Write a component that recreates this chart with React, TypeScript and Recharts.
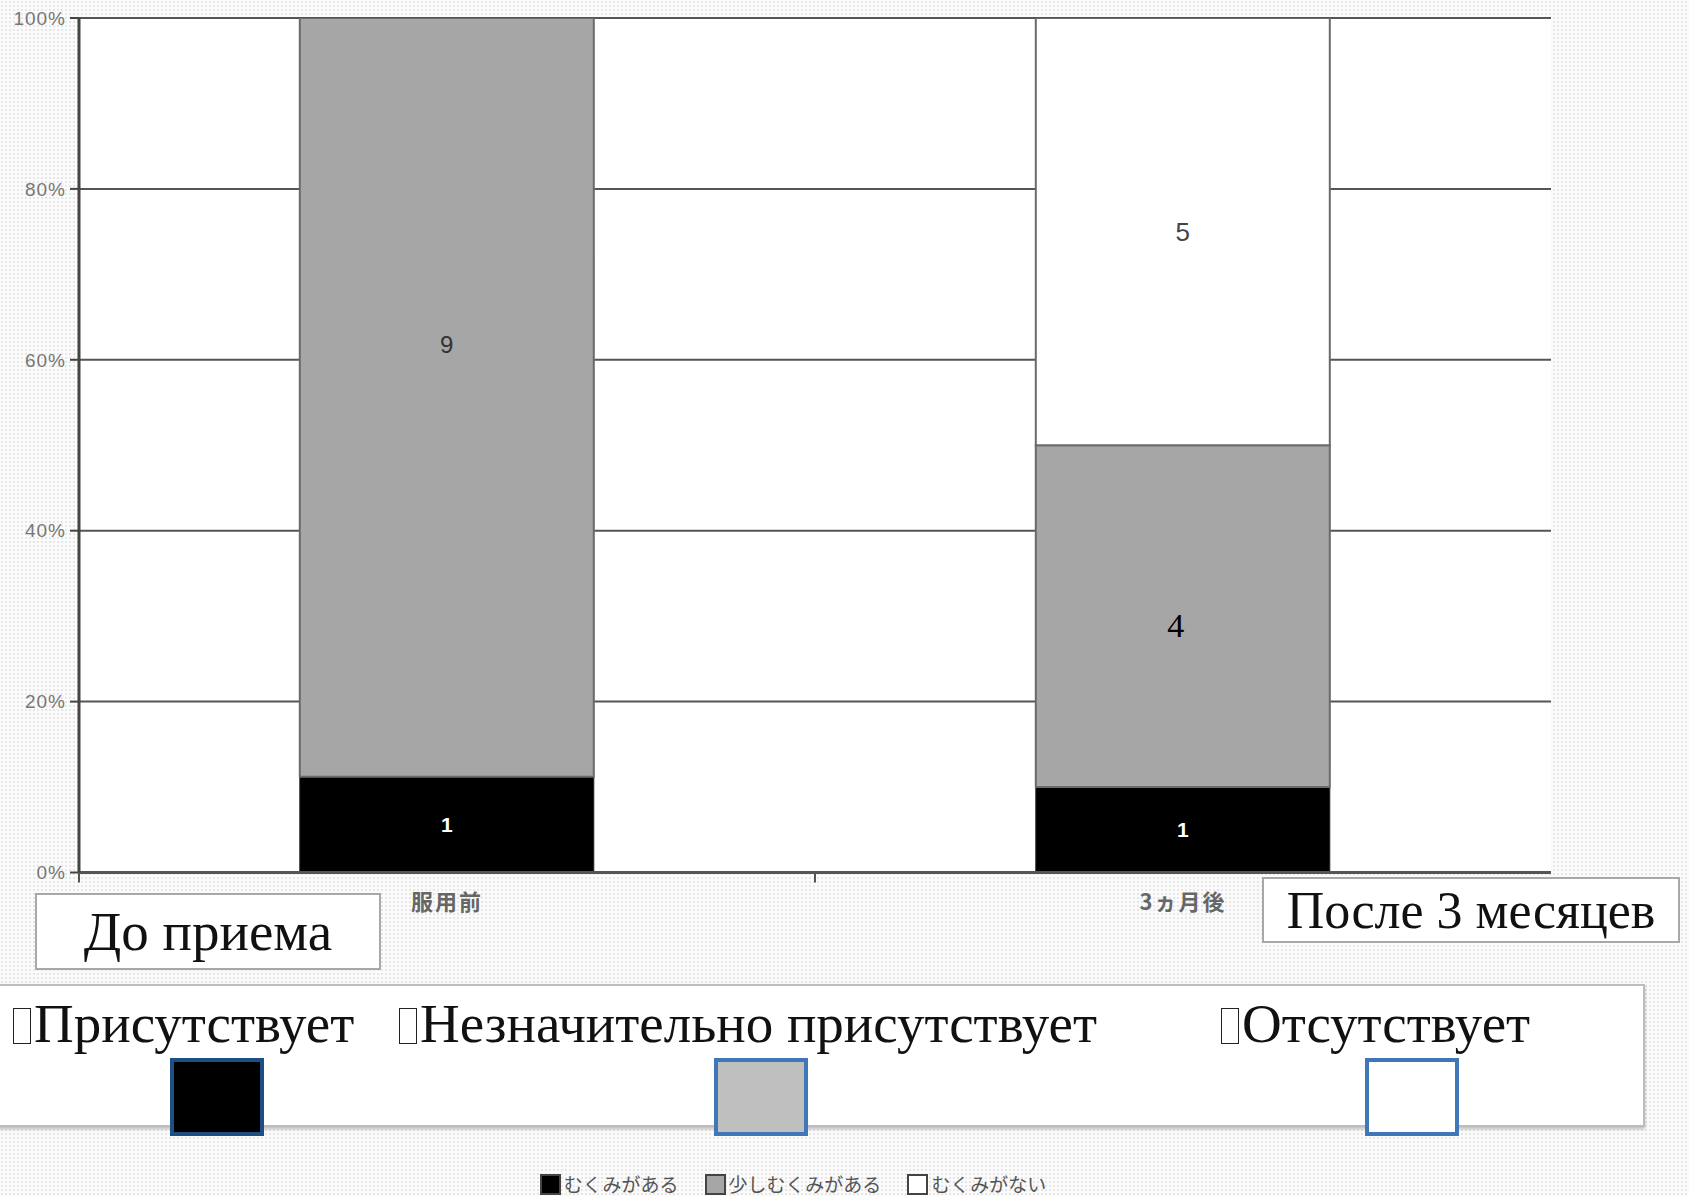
import React from 'react';
import { BarChart, Bar, XAxis, YAxis, CartesianGrid, LabelList, Legend } from 'recharts';

const categories = ['服用前', '3ヵ月後'];
const presentPct = [11.2, 10];
const slightPct = [88.8, 40];
const absentPct = [0, 50];
const presentCount = [1, 1];
const slightCount = [9, 4];
const absentCount = [0, 5];
const yTicks = [0, 20, 40, 60, 80, 100];
const jpLegend = ['むくみがある', '少しむくみがある', 'むくみがない'];
const ruLegend = ['Присутствует', 'Незначительно присутствует', 'Отсутствует'];
const ruCategories = ['До приема', 'После 3 месяцев'];

const data = categories.map((c, i) => ({
  name: c,
  present: presentPct[i],
  slight: slightPct[i],
  absent: absentPct[i],
  presentN: presentCount[i],
  slightN: slightCount[i],
  absentN: absentCount[i],
}));

const W = 1689;
const H = 1196;
const M = { top: 18, right: 138, left: 9, bottom: 283.5 };
const Y_W = 70;
const X_H = 40;
const plotW = W - M.left - M.right - Y_W;
const bandHalf = plotW / categories.length / 2;

const SANS = '"Liberation Sans", Arial, sans-serif';
const SERIF = '"Liberation Serif", "Times New Roman", serif';
const JP = '"Noto Sans CJK JP", sans-serif';

const XTick = (props: any) => {
  const { x, y, payload, index } = props;
  return (
    <g>
      {index === 0 && (
        <>
          <line x1={x - bandHalf} x2={x - bandHalf} y1={y} y2={y + 10} stroke="#555" strokeWidth={2} />
          <line x1={x + bandHalf} x2={x + bandHalf} y1={y} y2={y + 10} stroke="#555" strokeWidth={2} />
        </>
      )}
      <text x={x} y={y + 27} textAnchor="middle" dominantBaseline="central" fontSize={22} fontWeight="bold" letterSpacing={2} fill="#666" fontFamily={JP}>
        {payload.value}
      </text>
    </g>
  );
};

const presentLabel = (p: any) => {
  const { x, y, width, height, value } = p;
  if (!value) return null;
  return (
    <text x={x + width / 2} y={y + height / 2} textAnchor="middle" dominantBaseline="central" fontSize={21} fontWeight="bold" fill="#fff" fontFamily={SANS}>
      {value}
    </text>
  );
};

const slightLabel = (p: any) => {
  const { x, y, width, height, value, index } = p;
  if (!value) return null;
  if (index === 1) {
    return (
      <text x={x + width / 2 - 7} y={y + height / 2 + 9} textAnchor="middle" dominantBaseline="central" fontSize={34} fill="#000" fontFamily={SERIF}>
        {value}
      </text>
    );
  }
  return (
    <text x={x + width / 2} y={y + height * 0.43} textAnchor="middle" dominantBaseline="central" fontSize={24} fill="#333" fontFamily={SANS}>
      {value}
    </text>
  );
};

const absentLabel = (p: any) => {
  const { x, y, width, height, value } = p;
  if (!value) return null;
  return (
    <text x={x + width / 2} y={y + height / 2} textAnchor="middle" dominantBaseline="central" fontSize={26} fill="#444" fontFamily={SANS}>
      {value}
    </text>
  );
};

const JpLegend = (props: any) => {
  const payload = [...(props.payload || [])].sort(
    (a: any, b: any) => jpLegend.indexOf(a.value) - jpLegend.indexOf(b.value)
  );
  return (
    <div style={{ display: 'flex', justifyContent: 'center', gap: 26, fontFamily: JP, fontSize: 19, color: '#555', lineHeight: '24px' }}>
      {payload.map((e: any, i: number) => (
        <span key={i} style={{ display: 'flex', alignItems: 'center' }}>
          <span style={{ display: 'inline-block', width: 17, height: 17, background: e.color, border: '2px solid #444', marginRight: 3 }} />
          {e.value}
        </span>
      ))}
    </div>
  );
};

const Tofu = () => (
  <span style={{ display: 'inline-block', width: 16, height: 34, border: '1.5px solid #222', marginRight: 3, verticalAlign: '-2px' }} />
);

export default function App() {
  return (
    <div
      style={{
        position: 'absolute',
        left: 0,
        top: 0,
        width: W,
        height: H,
        overflow: 'hidden',
        backgroundColor: '#fbfbfb',
        backgroundImage: 'radial-gradient(#e6e6e6 0.9px, transparent 1.1px)',
        backgroundSize: '4px 4px',
      }}
    >
      <BarChart width={W} height={H} data={data} margin={M} barCategoryGap="30%">
        <CartesianGrid vertical={false} stroke="#555" strokeWidth={2} fill="#fff" fillOpacity={1} />
        <XAxis dataKey="name" height={X_H} axisLine={{ stroke: '#555', strokeWidth: 3 }} tickLine={false} tickSize={0} tickMargin={0} tick={<XTick />} interval={0} />
        <YAxis
          width={Y_W}
          domain={[0, 100]}
          ticks={yTicks}
          allowDataOverflow
          tickFormatter={(v: number) => `${v}%`}
          axisLine={{ stroke: '#444', strokeWidth: 3 }}
          tickLine={{ stroke: '#444', strokeWidth: 2 }}
          tickSize={9}
          tickMargin={4}
          tick={{ fontSize: 19, fill: '#777', fontFamily: SANS, letterSpacing: 1 }}
        />
        <YAxis yAxisId="r" orientation="right" width={0} domain={[0, 100]} tick={false} tickLine={false} axisLine={{ stroke: '#9a9a9a', strokeWidth: 3 }} />
        <Legend
          layout="horizontal"
          verticalAlign="middle"
          align="center"
          content={<JpLegend />}
          wrapperStyle={{ top: 1172, left: 0, width: 1586 }}
        />
        <Bar dataKey="present" stackId="s" name={jpLegend[0]} fill="#000" stroke="#222" strokeWidth={1} isAnimationActive={false}>
          <LabelList dataKey="presentN" content={presentLabel} />
        </Bar>
        <Bar dataKey="slight" stackId="s" name={jpLegend[1]} fill="#a6a6a6" stroke="#6a6a6a" strokeWidth={2} isAnimationActive={false}>
          <LabelList dataKey="slightN" content={slightLabel} />
        </Bar>
        <Bar dataKey="absent" stackId="s" name={jpLegend[2]} fill="#fff" stroke="#6a6a6a" strokeWidth={2} isAnimationActive={false}>
          <LabelList dataKey="absentN" content={absentLabel} />
        </Bar>
      </BarChart>

      {/* Russian category captions */}
      <div style={{ position: 'absolute', left: 35, top: 893, width: 346, height: 77, boxSizing: 'border-box', border: '2px solid #a8a8a8', background: '#fff', fontFamily: SERIF, fontSize: 55, color: '#111', display: 'flex', alignItems: 'center', justifyContent: 'center' }}>
        {ruCategories[0]}
      </div>
      <div style={{ position: 'absolute', left: 1262, top: 877, width: 418, height: 66, boxSizing: 'border-box', border: '2px solid #a8a8a8', background: '#fff', fontFamily: SERIF, fontSize: 52, color: '#111', display: 'flex', alignItems: 'center', justifyContent: 'center' }}>
        {ruCategories[1]}
      </div>

      {/* Russian legend box */}
      <div style={{ position: 'absolute', left: -4, top: 984, width: 1649, height: 143, boxSizing: 'border-box', border: '2px solid #bdbdbd', background: '#fff', boxShadow: '0 2px 3px rgba(0,0,0,0.25)' }} />
      <div style={{ position: 'absolute', left: 13, top: 992, fontFamily: SERIF, fontSize: 55, color: '#111', whiteSpace: 'nowrap' }}>
        <Tofu />{ruLegend[0]}
      </div>
      <div style={{ position: 'absolute', left: 399, top: 992, fontFamily: SERIF, fontSize: 55, color: '#111', whiteSpace: 'nowrap' }}>
        <Tofu />{ruLegend[1]}
      </div>
      <div style={{ position: 'absolute', left: 1221, top: 992, fontFamily: SERIF, fontSize: 55, color: '#111', whiteSpace: 'nowrap' }}>
        <Tofu />{ruLegend[2]}
      </div>
      <div style={{ position: 'absolute', left: 170, top: 1058, width: 94, height: 78, boxSizing: 'border-box', border: '4px solid #1d4f86', background: '#000' }} />
      <div style={{ position: 'absolute', left: 714, top: 1058, width: 94, height: 78, boxSizing: 'border-box', border: '4px solid #3f77b8', background: '#bfbfbf' }} />
      <div style={{ position: 'absolute', left: 1365, top: 1058, width: 94, height: 78, boxSizing: 'border-box', border: '4px solid #3f77b8', background: '#fff' }} />
    </div>
  );
}
